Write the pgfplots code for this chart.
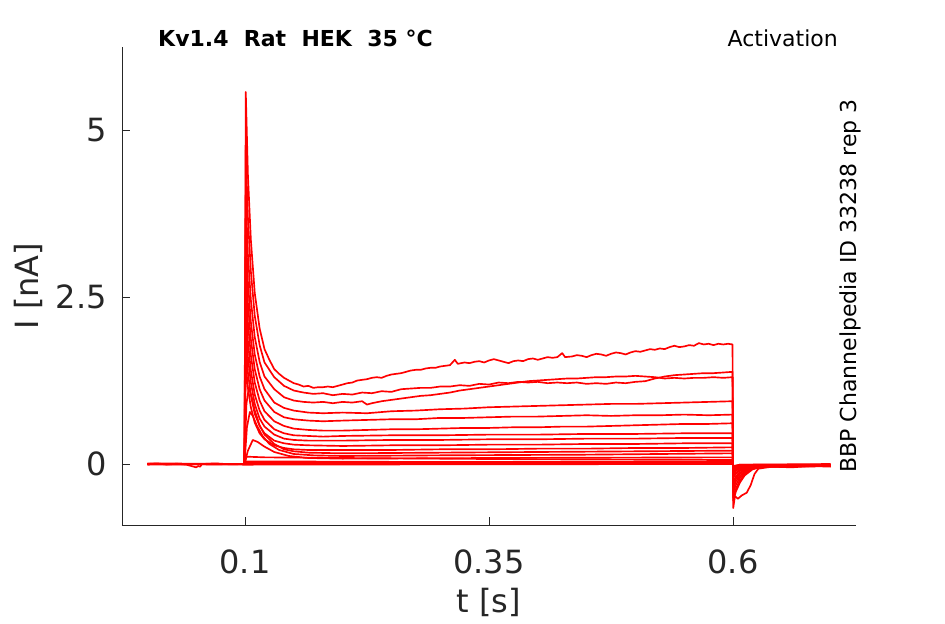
\documentclass[border=0pt]{standalone}
\usepackage{fontspec}
\setmainfont{DejaVu Sans}
\usepackage{pgfplots}
\pgfplotsset{compat=1.18}
\definecolor{axgray}{HTML}{262626}
\definecolor{tr}{HTML}{FF0000}
\pgfplotsset{trace/.style={draw=tr, solid, line width=1.25pt, line join=round, mark=none}}
\begin{document}
\begin{tikzpicture}
\path[use as bounding box] (-91.5pt,-74.25pt) rectangle (617.25pt,393.75pt);
\begin{axis}[
  at={(0,0)}, anchor=south west,
  scale only axis, width=550.5pt, height=358.5pt,
  xmin=-0.026, xmax=0.726, ymin=-0.913, ymax=6.243,
  axis x line*=bottom, axis y line*=left,
  axis line style={axgray, line width=0.6pt, -},
  tick align=inside, major tick length=6pt,
  tick style={axgray, line width=0.6pt},
  xtick={0.1,0.35,0.6}, xticklabels={0.1,0.35,0.6},
  ytick={0,2.5,5}, yticklabels={0,2.5,5},
  xticklabel style={font=\fontsize{24}{28}\selectfont, text=axgray, anchor=base, inner sep=0pt, yshift=-36pt},
  yticklabel style={font=\fontsize{24}{28}\selectfont, text=axgray, anchor=east, inner sep=0pt, xshift=-11.25pt},
  xlabel={t [s]}, ylabel={I [nA]},
  xlabel style={font=\fontsize{24}{28}\selectfont, text=axgray, at={(axis description cs:0.5,-0.1841)}, anchor=base, inner sep=0pt},
  ylabel style={font=\fontsize{24}{28}\selectfont, text=axgray, at={(axis description cs:-0.1144,0.5)}, anchor=base, inner sep=0pt},
  clip=false,
]
% T1
\addplot[trace] coordinates {(0,0) (0.01,0.01) (0.02,-0.01) (0.03,0.005) (0.04,-0.01) (0.045,-0.03) (0.05,-0.05) (0.052,-0.03) (0.054,-0.04) (0.056,0.0) (0.07,0.01) (0.085,-0.005) (0.0995,0.0)
(0.1008,5.57) (0.103,4.33) (0.106,3.36) (0.11,2.56) (0.115,2.03) (0.12,1.72) (0.125,1.56) (0.13,1.42) (0.135,1.35) (0.14,1.29) (0.145,1.25)
(0.15,1.21) (0.155,1.19) (0.16,1.16) (0.165,1.17) (0.17,1.14) (0.175,1.15) (0.18,1.15) (0.185,1.16) (0.19,1.15) (0.195,1.17)
(0.2,1.19) (0.205,1.21) (0.21,1.22) (0.215,1.25) (0.22,1.26) (0.225,1.27) (0.23,1.29) (0.235,1.3) (0.24,1.29) (0.245,1.32) (0.25,1.34) (0.255,1.35) (0.26,1.36) (0.265,1.38) (0.27,1.4) (0.275,1.41) (0.28,1.41) (0.285,1.43) (0.29,1.44) (0.295,1.44) (0.3,1.46) (0.305,1.47) (0.31,1.48) (0.315,1.56) (0.318,1.5) (0.325,1.52) (0.33,1.51) (0.335,1.53) (0.34,1.54) (0.345,1.52) (0.35,1.55) (0.355,1.57) (0.36,1.55) (0.365,1.53) (0.37,1.51) (0.375,1.54) (0.38,1.55) (0.385,1.54) (0.39,1.57) (0.395,1.58) (0.4,1.56) (0.405,1.58) (0.41,1.6) (0.415,1.59) (0.42,1.6) (0.425,1.66) (0.428,1.6) (0.435,1.61) (0.44,1.63) (0.445,1.62) (0.45,1.6) (0.455,1.63) (0.46,1.65) (0.465,1.64) (0.47,1.62) (0.475,1.65) (0.48,1.67) (0.485,1.66) (0.49,1.64) (0.495,1.67) (0.5,1.69) (0.505,1.68) (0.51,1.7) (0.515,1.72) (0.52,1.71) (0.525,1.73) (0.53,1.72) (0.535,1.75) (0.54,1.77) (0.545,1.75) (0.55,1.76) (0.555,1.78) (0.56,1.77) (0.565,1.81) (0.57,1.79) (0.575,1.8) (0.58,1.78) (0.585,1.8) (0.59,1.79) (0.595,1.8) (0.5995,1.79)
(0.6002,-0.66) (0.602,-0.48) (0.605,-0.52) (0.609,-0.47) (0.614,-0.43) (0.618,-0.32) (0.622,-0.15) (0.626,-0.07) (0.64,-0.04) (0.66,-0.05) (0.68,-0.03) (0.7,-0.04)};
% T2
\addplot[trace] coordinates {(0,0.01) (0.0995,0.0) (0.1008,4.7) (0.103,3.69) (0.106,2.89) (0.11,2.22) (0.115,1.78) (0.12,1.52) (0.13,1.3) (0.14,1.17) (0.15,1.1) (0.16,1.07) (0.17,1.05) (0.18,1.06) (0.19,1.03) (0.2,1.05) (0.21,1.04) (0.22,1.07) (0.23,1.06) (0.24,1.09) (0.25,1.08) (0.26,1.12) (0.27,1.13) (0.28,1.14) (0.29,1.14) (0.3,1.16) (0.31,1.16) (0.32,1.18) (0.33,1.17) (0.34,1.2) (0.35,1.19) (0.36,1.22) (0.37,1.21) (0.38,1.23) (0.39,1.22) (0.4,1.23) (0.41,1.21) (0.42,1.22) (0.43,1.21) (0.44,1.22) (0.45,1.2) (0.46,1.21) (0.47,1.2) (0.48,1.22) (0.49,1.21) (0.5,1.23) (0.51,1.24) (0.52,1.28) (0.53,1.31) (0.54,1.33) (0.55,1.34) (0.56,1.35) (0.57,1.36) (0.58,1.36) (0.59,1.37) (0.5995,1.38)
(0.6002,-0.55) (0.603,-0.41) (0.607,-0.28) (0.612,-0.17) (0.62,-0.08) (0.63,-0.04) (0.7,-0.03)};
% T3
\addplot[trace] coordinates {(0,-0.01) (0.0995,0.0) (0.1008,4.0) (0.103,3.14) (0.106,2.46) (0.11,1.9) (0.115,1.53) (0.12,1.31) (0.13,1.12) (0.14,1.0) (0.15,0.95) (0.16,0.93) (0.17,0.92) (0.18,0.93) (0.19,0.91) (0.2,0.93) (0.21,0.92) (0.22,0.94) (0.225,0.89) (0.23,0.91) (0.24,0.94) (0.25,0.96) (0.26,0.98) (0.27,1.0) (0.28,1.02) (0.29,1.03) (0.3,1.05) (0.31,1.07) (0.32,1.1) (0.33,1.12) (0.34,1.14) (0.35,1.16) (0.36,1.18) (0.37,1.2) (0.38,1.22) (0.39,1.24) (0.4,1.25) (0.41,1.26) (0.42,1.27) (0.43,1.28) (0.44,1.28) (0.45,1.29) (0.46,1.3) (0.47,1.3) (0.48,1.31) (0.49,1.31) (0.5,1.32) (0.51,1.31) (0.52,1.3) (0.53,1.28) (0.54,1.29) (0.55,1.28) (0.56,1.29) (0.57,1.29) (0.58,1.3) (0.59,1.29) (0.5995,1.3)
(0.6002,-0.5) (0.603,-0.37) (0.607,-0.25) (0.612,-0.15) (0.62,-0.07) (0.63,-0.04) (0.7,-0.02)};
% T4
\addplot[trace] coordinates {(0,0) (0.0995,0) (0.1008,3.5) (0.103,2.73) (0.106,2.13) (0.11,1.64) (0.115,1.31) (0.12,1.12) (0.13,0.92) (0.14,0.84) (0.15,0.8) (0.165,0.77) (0.18,0.76) (0.2,0.77) (0.225,0.76) (0.25,0.79) (0.275,0.8) (0.3,0.82) (0.325,0.83) (0.35,0.85) (0.375,0.86) (0.4,0.87) (0.425,0.88) (0.45,0.89) (0.475,0.9) (0.5,0.9) (0.525,0.91) (0.55,0.92) (0.575,0.93) (0.5995,0.94)
(0.6002,-0.42) (0.603,-0.31) (0.607,-0.21) (0.612,-0.13) (0.62,-0.07) (0.63,-0.04) (0.7,-0.03)};
% T5
\addplot[trace] coordinates {(0,0) (0.0995,0) (0.1008,3.1) (0.103,2.41) (0.106,1.87) (0.11,1.42) (0.115,1.12) (0.12,0.95) (0.13,0.78) (0.14,0.7) (0.15,0.67) (0.165,0.65) (0.18,0.64) (0.2,0.65) (0.225,0.66) (0.25,0.67) (0.275,0.67) (0.3,0.69) (0.325,0.69) (0.35,0.7) (0.375,0.71) (0.4,0.71) (0.425,0.72) (0.45,0.73) (0.475,0.72) (0.5,0.73) (0.525,0.73) (0.55,0.74) (0.575,0.73) (0.5995,0.74)
(0.6002,-0.35) (0.603,-0.26) (0.607,-0.18) (0.612,-0.11) (0.62,-0.06) (0.63,-0.04) (0.7,-0.03)};
% T6
\addplot[trace] coordinates {(0,0) (0.0995,0) (0.1008,2.75) (0.103,2.12) (0.106,1.63) (0.11,1.22) (0.115,0.95) (0.12,0.79) (0.13,0.64) (0.14,0.57) (0.15,0.53) (0.165,0.51) (0.18,0.5) (0.2,0.5) (0.225,0.51) (0.25,0.52) (0.275,0.52) (0.3,0.53) (0.325,0.54) (0.35,0.54) (0.375,0.55) (0.4,0.55) (0.425,0.56) (0.45,0.56) (0.475,0.57) (0.5,0.58) (0.525,0.59) (0.55,0.6) (0.575,0.6) (0.5995,0.61)
(0.6002,-0.3) (0.603,-0.22) (0.607,-0.15) (0.612,-0.09) (0.62,-0.05) (0.63,-0.04) (0.7,-0.03)};
% T7
\addplot[trace] coordinates {(0,0) (0.0995,0) (0.1008,2.4) (0.103,1.84) (0.106,1.4) (0.11,1.04) (0.115,0.8) (0.12,0.66) (0.13,0.52) (0.14,0.46) (0.15,0.43) (0.165,0.42) (0.18,0.41) (0.2,0.42) (0.25,0.43) (0.3,0.43) (0.35,0.44) (0.4,0.44) (0.45,0.45) (0.5,0.45) (0.55,0.46) (0.5995,0.46)
(0.6002,-0.25) (0.603,-0.19) (0.607,-0.13) (0.612,-0.08) (0.62,-0.05) (0.63,-0.03) (0.7,-0.02)};
% T8
\addplot[trace] coordinates {(0,0) (0.0995,0) (0.1008,2.1) (0.103,1.6) (0.106,1.22) (0.11,0.9) (0.115,0.68) (0.12,0.56) (0.13,0.44) (0.14,0.38) (0.15,0.36) (0.165,0.35) (0.2,0.35) (0.25,0.36) (0.3,0.36) (0.35,0.37) (0.4,0.37) (0.45,0.38) (0.5,0.38) (0.55,0.39) (0.5995,0.39)
(0.6002,-0.2) (0.603,-0.15) (0.607,-0.1) (0.612,-0.07) (0.62,-0.04) (0.7,-0.02)};
% T9
\addplot[trace] coordinates {(0,0) (0.0995,0) (0.1008,1.8) (0.103,1.37) (0.106,1.03) (0.11,0.75) (0.115,0.57) (0.12,0.46) (0.13,0.35) (0.14,0.31) (0.15,0.29) (0.165,0.28) (0.2,0.27) (0.25,0.28) (0.3,0.28) (0.35,0.29) (0.4,0.29) (0.45,0.3) (0.5,0.3) (0.55,0.31) (0.5995,0.31)
(0.6002,-0.17) (0.603,-0.13) (0.607,-0.09) (0.612,-0.06) (0.62,-0.04) (0.7,-0.02)};
% T10
\addplot[trace] coordinates {(0,0) (0.0995,0) (0.1008,1.5) (0.103,1.14) (0.106,0.85) (0.11,0.62) (0.115,0.46) (0.12,0.37) (0.13,0.28) (0.14,0.24) (0.15,0.22) (0.165,0.21) (0.2,0.21) (0.25,0.21) (0.3,0.22) (0.35,0.22) (0.4,0.23) (0.45,0.23) (0.5,0.24) (0.55,0.24) (0.5995,0.25)
(0.6002,-0.14) (0.603,-0.1) (0.607,-0.07) (0.612,-0.05) (0.62,-0.03) (0.7,-0.02)};
% T11
\addplot[trace] coordinates {(0,0) (0.0995,0) (0.1015,0.9) (0.104,1.15) (0.107,1.0) (0.11,0.8) (0.115,0.58) (0.12,0.44) (0.13,0.3) (0.14,0.22) (0.15,0.19) (0.165,0.17) (0.2,0.16) (0.3,0.17) (0.4,0.18) (0.5,0.19) (0.5995,0.2)
(0.6002,-0.12) (0.603,-0.09) (0.607,-0.06) (0.612,-0.04) (0.62,-0.03) (0.7,-0.02)};
% T12
\addplot[trace] coordinates {(0,0) (0.0995,0) (0.102,0.55) (0.105,0.78) (0.108,0.72) (0.112,0.58) (0.118,0.42) (0.125,0.3) (0.135,0.21) (0.15,0.15) (0.17,0.13) (0.2,0.12) (0.3,0.13) (0.45,0.14) (0.5995,0.16)
(0.6002,-0.1) (0.604,-0.07) (0.61,-0.04) (0.62,-0.03) (0.7,-0.02)};
% T13
\addplot[trace] coordinates {(0,0) (0.0995,0) (0.103,0.2) (0.108,0.36) (0.113,0.33) (0.12,0.26) (0.13,0.18) (0.145,0.12) (0.165,0.09) (0.2,0.08) (0.35,0.09) (0.5995,0.1)
(0.6002,-0.08) (0.605,-0.05) (0.615,-0.03) (0.7,-0.02)};
% T14
\addplot[trace] coordinates {(0,0) (0.0995,0) (0.1015,0.11) (0.12,0.1) (0.2,0.09) (0.4,0.07) (0.5995,0.06) (0.6002,-0.06) (0.607,-0.03) (0.7,-0.02)};
% T15
\addplot[trace] coordinates {(0,0) (0.0995,0) (0.101,0.04) (0.3,0.03) (0.5995,0.03) (0.6002,-0.05) (0.607,-0.02) (0.7,-0.01)};
% T16
\addplot[trace] coordinates {(0,0) (0.0995,0) (0.101,0.015) (0.5995,0.015) (0.6002,-0.04) (0.607,-0.01) (0.7,0.0)};
% T17
\addplot[trace] coordinates {(0,0) (0.0995,-0.01) (0.3,-0.005) (0.5995,0.0) (0.6002,-0.03) (0.607,-0.01) (0.7,-0.01)};

\node[anchor=base west, inner sep=0pt, font=\fontsize{16.5}{20}\selectfont\bfseries] at (rel axis cs:0.049,1) {Kv1.4\ \ Rat\ \ HEK\ \ 35 °C};
\node[anchor=base east, inner sep=0pt, font=\fontsize{16.5}{20}\selectfont] at (rel axis cs:0.9755,1) {Activation};
\node[anchor=base, rotate=90, inner sep=0pt, font=\fontsize{16.5}{20}\selectfont] at (rel axis cs:1.0,0.5) {BBP Channelpedia ID 33238 rep 3};
\end{axis}
\end{tikzpicture}
\end{document}
